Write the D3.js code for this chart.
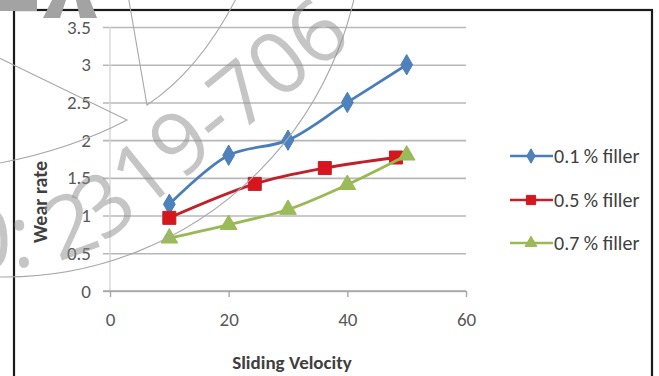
<!DOCTYPE html>
<html>
<head>
<meta charset="utf-8">
<script src="https://cdn.jsdelivr.net/npm/d3@7"></script>
<style>
  html, body { margin: 0; padding: 0; background: #fff; }
  svg { display: block; font-family: Carlito, Lato, "Open Sans", sans-serif; }
</style>
</head>
<body>
<svg id="chart" width="659" height="376"></svg>
<script>
// values
const seriesNames = ["0.1 % filler", "0.5 % filler", "0.7 % filler"];
const velocity01 = [10, 20, 30, 40, 50];
const wear01 = [1.15, 1.8, 2.0, 2.5, 3.0];
const velocity05 = [10, 24.4, 36.2, 48.2];
const wear05 = [0.97, 1.42, 1.63, 1.77];
const velocity07 = [10, 20, 30, 40, 50];
const wear07 = [0.7, 0.88, 1.08, 1.41, 1.8];
const xTicks = [0, 20, 40, 60];
const yTicks = [0, 0.5, 1, 1.5, 2, 2.5, 3, 3.5];

const svg = d3.select("#chart");

// plot area
const x = d3.scaleLinear().domain([0, 60]).range([110, 466]);
const y = d3.scaleLinear().domain([0, 3.5]).range([291, 27]);

// outer frame
svg.append("rect")
  .attr("x", 14).attr("y", 10)
  .attr("width", 638).attr("height", 380)
  .attr("fill", "none")
  .attr("stroke", "#1a1a1a")
  .attr("stroke-width", 2.2);

// horizontal gridlines + y labels
const yAxis = d3.axisLeft(y).tickValues(yTicks).tickSize(x(60) - x(0) + 7).tickFormat(d3.format("~g"));
const gy = svg.append("g")
  .attr("transform", `translate(${x(60)},0)`)
  .call(yAxis);
gy.select(".domain").remove();
gy.selectAll(".tick line").attr("stroke", "#b8b8b8").attr("stroke-width", 1.6);
gy.selectAll(".tick text")
  .attr("x", -(x(60) - x(0)) - 19)
  .attr("fill", "#595959")
  .style("font-size", "19px")
  .style("font-family", "Carlito, Lato, sans-serif");

// vertical axis line
svg.append("line")
  .attr("x1", x(0)).attr("x2", x(0))
  .attr("y1", y(3.5)).attr("y2", y(0))
  .attr("stroke", "#d6d6d6").attr("stroke-width", 1.4);

// x axis
const xAxis = d3.axisBottom(x).tickValues(xTicks).tickSize(6).tickPadding(16);
const gx = svg.append("g")
  .attr("transform", `translate(0,${y(0)})`)
  .call(xAxis);
gx.select(".domain").attr("stroke", "#a6a6a6").attr("stroke-width", 1.6)
  .attr("d", `M${x(0) - 7},0H${x(60)}`);
gx.selectAll(".tick line").attr("stroke", "#a6a6a6").attr("stroke-width", 1.4);
gx.selectAll(".tick text")
  .attr("fill", "#595959")
  .style("font-size", "19px")
  .style("font-family", "Carlito, Lato, sans-serif");

// axis titles
svg.append("text")
  .attr("x", 292).attr("y", 369)
  .attr("text-anchor", "middle")
  .attr("fill", "#404040")
  .style("font-size", "19px").style("font-weight", "bold")
  .text("Sliding Velocity");

svg.append("text")
  .attr("transform", "translate(47,202) rotate(-90)")
  .attr("text-anchor", "middle")
  .attr("fill", "#404040")
  .style("font-size", "20px").style("font-weight", "bold")
  .text("Wear rate");

// series
const series = [
  { name: seriesNames[0], xs: velocity01, ys: wear01, line: "#4a7ebb", fill: "#4f81bd", shape: d3.symbolDiamond, size: 120 },
  { name: seriesNames[1], xs: velocity05, ys: wear05, line: "#c0202a", fill: "#d8151c", shape: d3.symbolSquare, size: 170 },
  { name: seriesNames[2], xs: velocity07, ys: wear07, line: "#98b954", fill: "#9bbb59", shape: d3.symbolTriangle, size: 120 }
];

const line = d3.line()
  .x(d => x(d[0]))
  .y(d => y(d[1]))
  .curve(d3.curveCatmullRom.alpha(0.5));

series.forEach(s => {
  const pts = s.xs.map((v, i) => [v, s.ys[i]]);
  svg.append("path")
    .datum(pts)
    .attr("fill", "none")
    .attr("stroke", s.line)
    .attr("stroke-width", 2.8)
    .attr("stroke-linejoin", "round")
    .attr("d", line);
  svg.append("g").selectAll("path")
    .data(pts)
    .join("path")
    .attr("transform", d => `translate(${x(d[0])},${y(d[1])})`)
    .attr("d", d3.symbol().type(s.shape).size(s.size))
    .attr("fill", s.fill)
    .attr("stroke", s.line)
    .attr("stroke-width", 1);
});

// legend
const legendY = [156, 200, 243];
const lg = svg.append("g").selectAll("g")
  .data(series)
  .join("g")
  .attr("transform", (d, i) => `translate(510,${legendY[i]})`);
lg.append("line")
  .attr("x1", 0).attr("x2", 43)
  .attr("stroke", d => d.line).attr("stroke-width", 2.6);
lg.append("path")
  .attr("transform", "translate(21,0)")
  .attr("d", d => d3.symbol().type(d.shape).size(d.size * 0.5)())
  .attr("fill", d => d.fill)
  .attr("stroke", d => d.line);
lg.append("text")
  .attr("x", 44).attr("dy", "0.35em")
  .attr("fill", "#404040")
  .style("font-size", "20px")
  .style("font-family", "Carlito, Lato, sans-serif")
  .text(d => d.name);

// faint seal watermark over the chart
const wm = svg.append("g").attr("pointer-events", "none");
wm.append("circle")
  .attr("cx", 5).attr("cy", -81).attr("r", 358)
  .attr("fill", "none").attr("stroke", "#a8a8a8").attr("stroke-width", 1.1);
wm.append("path")
  .attr("d", "M-5,56L127,120Q70,150,-5,164")
  .attr("fill", "none").attr("stroke", "#a8a8a8").attr("stroke-width", 1.1);
wm.append("path")
  .attr("d", "M128,-5L147,105Q200,70,238,-5")
  .attr("fill", "none").attr("stroke", "#a8a8a8").attr("stroke-width", 1.1);
// logo fragment at the top-left corner
wm.append("path")
  .attr("d", "M0,0H37V11H0Z M43,18L52,0H66L60,18Z M80,18L76,0H90L97,18Z")
  .attr("fill", "#a3a3a3");
wm.append("path")
  .attr("id", "wmPath")
  .attr("d", "M-36,270Q56,270,104,243L370,28")
  .attr("fill", "none");
wm.append("text")
  .attr("fill", "#8c8c8c").attr("fill-opacity", 0.5)
  .style("font-size", "86px")
  .style("font-family", "'Open Sans', Lato, sans-serif")
  .style("font-weight", 400)
  .append("textPath")
  .attr("href", "#wmPath")
  .attr("startOffset", 0)
  .text("0: 2319-706");
</script>
</body>
</html>
